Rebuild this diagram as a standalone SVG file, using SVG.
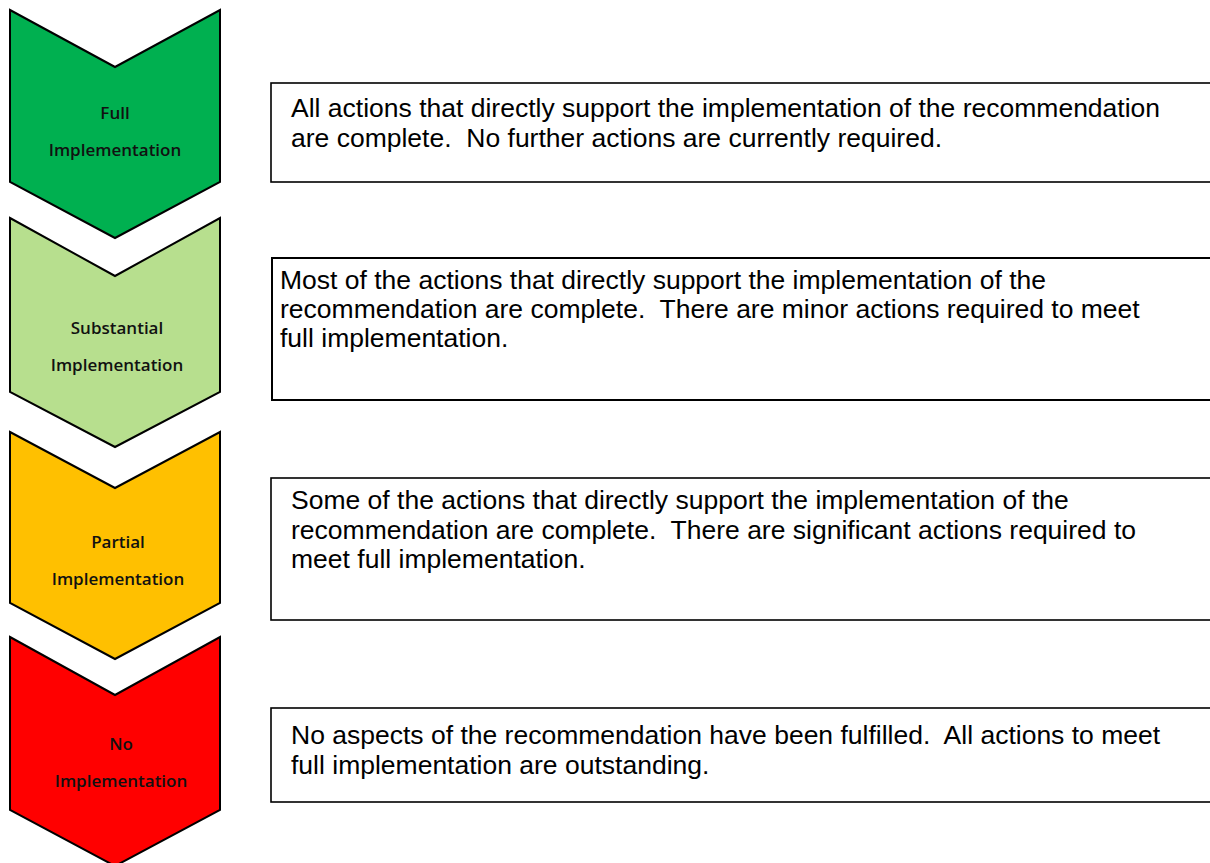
<svg xmlns="http://www.w3.org/2000/svg" width="1210" height="863" viewBox="0 0 1210 863">
<style>
.chev{stroke:#000;stroke-width:2;stroke-linejoin:miter}
.lbl{font-family:"Open Sans","Liberation Sans",sans-serif;font-weight:600;font-size:17px;fill:#111;text-anchor:middle}
.box{fill:#fff;stroke:#000;stroke-width:1.6}
.desc{font-family:"Liberation Sans",Arial,sans-serif;font-size:26.5px;fill:#000;white-space:pre}
</style>
<rect width="1210" height="863" fill="#fff"/>
<g id="connectors"></g>
<g id="full">
<polygon class="chev" fill="#00B050" points="10,10 115,67 220,10 220,182 115,238 10,182"/>
<text class="lbl" x="115" y="119">Full</text>
<text class="lbl" x="115" y="156">Implementation</text>
</g>
<g id="substantial">
<polygon class="chev" fill="#B7DF8E" points="10,218 115,276 220,218 220,392 115,447 10,392"/>
<text class="lbl" x="117" y="334">Substantial</text>
<text class="lbl" x="117" y="371">Implementation</text>
</g>
<g id="partial">
<polygon class="chev" fill="#FFC000" points="10,432 115,488 220,432 220,603 115,659 10,603"/>
<text class="lbl" x="118" y="548">Partial</text>
<text class="lbl" x="118" y="585">Implementation</text>
</g>
<g id="none">
<polygon class="chev" fill="#FF0000" points="10,637 115,695 220,637 220,810 115,866 10,810"/>
<text class="lbl" x="121" y="750">No</text>
<text class="lbl" x="121" y="787">Implementation</text>
</g>
<g id="desc-full">
<rect class="box" x="271" y="83" width="950" height="99"/>
<text class="desc" x="291" y="117" xml:space="preserve">All actions that directly support the implementation of the recommendation</text>
<text class="desc" x="291" y="147" xml:space="preserve">are complete.  No further actions are currently required.</text>
</g>
<g id="desc-substantial">
<rect class="box" x="272" y="258" width="950" height="142" style="stroke-width:2"/>
<text class="desc" x="280" y="289" xml:space="preserve">Most of the actions that directly support the implementation of the</text>
<text class="desc" x="280" y="318" xml:space="preserve">recommendation are complete.  There are minor actions required to meet</text>
<text class="desc" x="280" y="347" xml:space="preserve">full implementation.</text>
</g>
<g id="desc-partial">
<rect class="box" x="271" y="478" width="950" height="142"/>
<text class="desc" x="291" y="509" xml:space="preserve">Some of the actions that directly support the implementation of the</text>
<text class="desc" x="291" y="539" xml:space="preserve">recommendation are complete.  There are significant actions required to</text>
<text class="desc" x="291" y="568" xml:space="preserve">meet full implementation.</text>
</g>
<g id="desc-none">
<rect class="box" x="271" y="708" width="950" height="94"/>
<text class="desc" x="291" y="744" xml:space="preserve">No aspects of the recommendation have been fulfilled.  All actions to meet</text>
<text class="desc" x="291" y="774" xml:space="preserve">full implementation are outstanding.</text>
</g>
</svg>
